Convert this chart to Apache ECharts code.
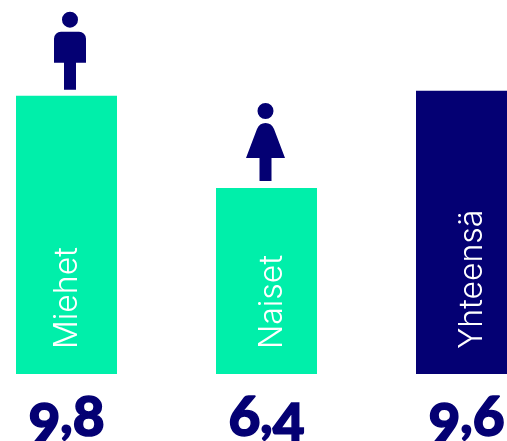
<!DOCTYPE html>
<html><head><meta charset="utf-8">
<style>html,body{margin:0;padding:0;background:#fff}#c{width:507px;height:441px}</style>
<script src="https://cdn.jsdelivr.net/npm/echarts@6/dist/echarts.min.js"></script></head>
<body><div id="c"></div>
<script>
const categories = ['Miehet', 'Naiset', 'Yhteensä'];
const drawnHeights = [9.8, 6.55, 9.97];
const valueLabels = ['9,8', '6,4', '9,6'];
const iconValues = [9.8, 6.55, null];
const barColors = ['#00EFAA', '#00EFAA', '#040073'];
const navy = '#040073';
const oldStyleHigh = '68';

const man = 'path://M16,0a8,8 0 1,1 -0.01,0z M7,20H25a7,7 0 0 1 7,7V51H22V78H10V51H0V27a7,7 0 0 1 7,-7z';
const woman = 'path://M19.5,0a8,8 0 1,1 -0.01,0z M19.5,20c4,0 7,2 8.5,6L39,55H25.5V78H13.5V55H0L11,26c1.500,-4 4.500,-6 8.500,-6z';

const chart = echarts.init(document.getElementById('c'), null, {renderer: 'canvas'});
function richValue(t) {
  return t.split('').map(ch => {
    if (ch === ',') return '{c|,}';
    return oldStyleHigh.includes(ch) ? '{h|' + ch + '}' : '{l|' + ch + '}';
  }).join('');
}
const numStyle = {fontFamily: 'Lato', fontWeight: 900, fontSize: 55, color: navy, textBorderColor: navy, textBorderWidth: 1.5};
chart.setOption({
  animation: false,
  grid: {left: -33.5, width: 600, top: 0, height: 374, containLabel: false, outerBoundsMode: 'none'},
  xAxis: {
    type: 'category', data: categories,
    axisLine: {show: false}, axisTick: {show: false},
    axisLabel: {
      margin: 16, interval: 0, hideOverlap: false,
      formatter: (v, i) => richValue(valueLabels[i]),
      rich: {
        h: {...numStyle, padding: [0, 0, 7, 0]},
        l: {...numStyle, padding: [7, 0, 0, 0]},
        c: {...numStyle, fontSize: 52, padding: [0, 0, 12, 0]}
      }
    }
  },
  yAxis: {type: 'value', min: 0, max: 13.17, show: false},
  series: [
    {
      type: 'bar', barWidth: 101,
      data: drawnHeights.map((v, i) => ({
        value: v,
        itemStyle: {color: barColors[i]},
        label: {offset: [0, i === 0 ? 1 : 6]}
      })),
      label: {
        show: true, rotate: 90, position: 'insideBottom', distance: 25,
        align: 'left', verticalAlign: 'middle',
        formatter: p => p.name,
        fontFamily: 'Inter', fontWeight: 300, fontSize: 32, color: '#fff'
      }
    },
    {
      type: 'pictorialBar', symbolPosition: 'end', z: 5, barGap: '-100%',
      itemStyle: {color: navy},
      data: [
        {value: iconValues[0], symbol: man, symbolSize: [32, 78], symbolOffset: [3.5, -84]},
        {value: iconValues[1], symbol: woman, symbolSize: [39, 78], symbolOffset: [-1, -85]},
        {value: iconValues[2], symbol: 'none'}
      ]
    }
  ]
});
</script></body></html>
